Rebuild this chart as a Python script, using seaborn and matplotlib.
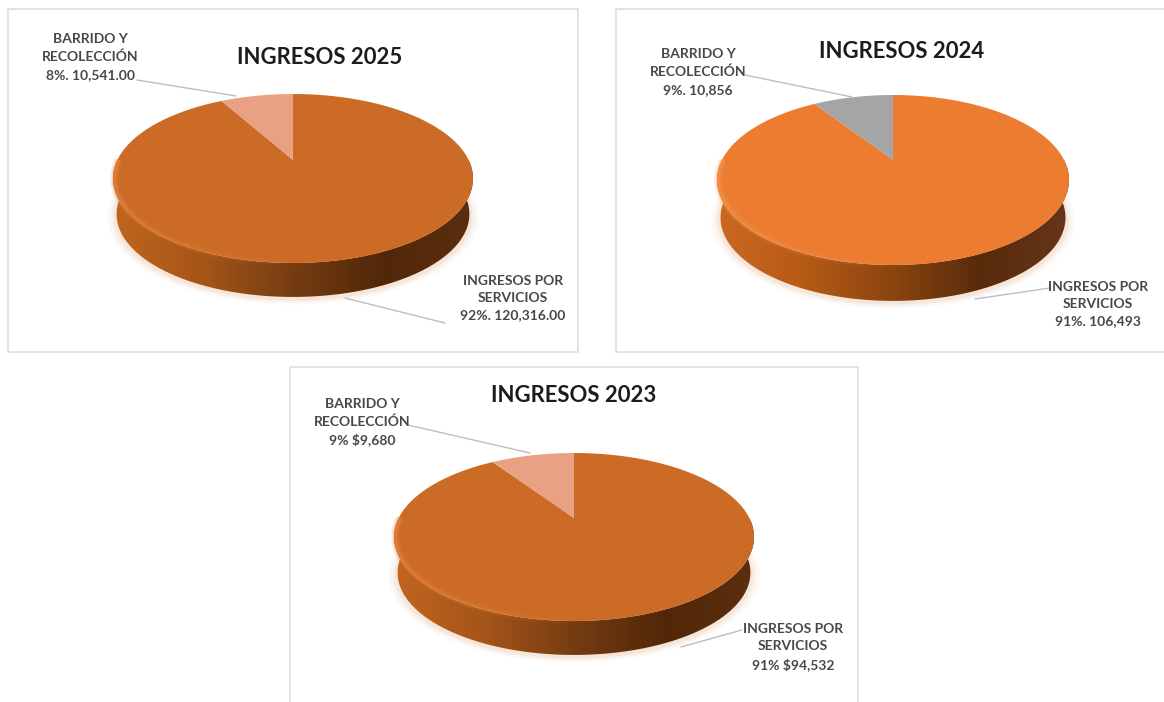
import numpy as np
import matplotlib
matplotlib.use("Agg")
import matplotlib.pyplot as plt
import seaborn as sns
from matplotlib.collections import LineCollection
from matplotlib.patches import Polygon, Rectangle
from matplotlib.transforms import Affine2D

sns.set_theme(style="white")
plt.rcParams["font.family"] = ["Lato", "DejaVu Sans"]

# ==============================
# Datos
# ==============================
years = ["2025", "2024", "2023"]
servicios = [120316, 106493, 94532]
barrido = [10541, 10856, 9680]
barrido_labels = ["BARRIDO Y\nRECOLECCIÓN\n8%. 10,541.00",
                  "BARRIDO Y\nRECOLECCIÓN\n9%. 10,856",
                  "BARRIDO Y\nRECOLECCIÓN\n9% $9,680"]
servicios_labels = ["INGRESOS POR\nSERVICIOS\n92%. 120,316.00",
                    "INGRESOS POR\nSERVICIOS\n91%. 106,493",
                    "INGRESOS POR\nSERVICIOS\n91% $94,532"]

# ==============================
# Layout en pixeles de la imagen
# ==============================
W, H = 1164, 702
panels = [
    dict(box=(8, 9, 578, 352), cx=293, cy=160, half=180, up=66, down=103, depth=36,
         title=(320, 57), left=(90, 57), right=(513, 298),
         lead1=[(137, 80), (236, 96)], lead2=[(345, 298), (445, 323)],
         top="#CC6B25", slice="#E8A283", rim="#E98A45",
         wall=["#C0651F", "#A55518", "#753C12", "#522708", "#5A2E0F"]),
    dict(box=(616, 9, 1175, 352), cx=893, cy=160, half=176, up=65, down=105, depth=38,
         title=(902, 51), left=(698, 72), right=(1098, 304),
         lead1=[(745, 75), (852, 97)], lead2=[(975, 299), (1050, 288)],
         top="#EC7C30", slice="#A5A5A5", rim="#F59A55",
         wall=["#CC6820", "#B55A16", "#8A4510", "#582B0A", "#66351A"]),
    dict(box=(290, 367, 858, 710), cx=574, cy=518, half=180, up=65, down=103, depth=36,
         title=(574, 396), left=(362, 422), right=(793, 647),
         lead1=[(408, 425), (530, 453)], lead2=[(681, 647), (742, 630)],
         top="#CC6B25", slice="#E8A283", rim="#E98A45",
         wall=["#C0651F", "#A55518", "#753C12", "#522708", "#5A2E0F"]),
]


def warp(x, y, p, scale=1.0, dy=0.0):
    # perspectiva: el centro del pastel queda mas cerca del borde de arriba
    k = (p["down"] - p["up"]) / (p["down"] + p["up"])
    ry = p["up"] * (1 + k)
    rx = p["half"] * np.sqrt(1 - k ** 2)
    w = 1 + k * y
    return p["cx"] + scale * rx * x / w, p["cy"] + dy - scale * ry * y / w


fig = plt.figure(figsize=(W / 100, H / 100), dpi=100)
ax = fig.add_axes([0, 0, 1, 1])
theta = np.linspace(0, 2 * np.pi, 400)
front = np.linspace(np.pi, 2 * np.pi, 200)

for i, p in enumerate(panels):
    x0, y0, x1, y1 = p["box"]
    ax.add_patch(Rectangle((x0, y0), x1 - x0, y1 - y0, fc="white", ec="#DEDEDE", lw=1.2, zorder=1))

    # sombra suave debajo del pastel
    for s, a in [(1.05, 0.05), (1.035, 0.07), (1.02, 0.10), (1.01, 0.14)]:
        sx, sy = warp(np.cos(theta), np.sin(theta), p, scale=s * 0.985, dy=p["depth"] + 2)
        ax.add_patch(Polygon(np.c_[sx, sy], fc="#E9B48C", ec="none", alpha=a, zorder=2))

    # pared lateral con degradado
    tx, ty = warp(np.cos(front), np.sin(front), p)
    bx, by = warp(np.cos(front), np.sin(front), p, scale=0.98, dy=p["depth"])
    wall = Polygon(np.r_[np.c_[tx, ty], np.c_[bx, by][::-1]], fc="none", ec="none", zorder=3)
    ax.add_patch(wall)
    cmap = sns.blend_palette(p["wall"], n_colors=256, as_cmap=True)
    img = ax.imshow(np.linspace(0, 1, 256)[None, :], cmap=cmap, aspect="auto", zorder=3,
                    extent=(tx.min(), tx.max(), by.max(), ty.min()))
    img.set_clip_path(wall)

    # pastel: las rebanadas salen de los valores
    wedges, _ = ax.pie([servicios[i], barrido[i]], startangle=90, counterclock=False,
                       colors=[p["top"], p["slice"]], radius=1)
    for wedge in wedges:
        path = (wedge.get_patch_transform() + Affine2D().scale(1000)).transform_path(wedge.get_path())
        verts = path.to_polygons()[0] / 1000
        wx, wy = warp(verts[:, 0], verts[:, 1], p)
        ax.add_patch(Polygon(np.c_[wx, wy], fc=wedge.get_facecolor(), ec="none", zorder=4))
        wedge.remove()

    # brillo en el borde del frente, se apaga hacia la derecha
    rx_, ry_ = warp(np.cos(front), np.sin(front), p, scale=0.992)
    segs = np.stack([np.c_[rx_[:-1], ry_[:-1]], np.c_[rx_[1:], ry_[1:]]], axis=1)
    fade = np.clip(1.05 - np.linspace(0, 1, len(segs)) * 1.9, 0, 1)
    for lw, a in [(6, 0.22), (3.5, 0.3), (1.8, 0.4)]:
        rgba = np.tile(matplotlib.colors.to_rgba(p["rim"]), (len(segs), 1))
        rgba[:, 3] = fade * a
        ax.add_collection(LineCollection(segs, colors=rgba, linewidths=lw, zorder=5))

    # lineas guia
    for lead in (p["lead1"], p["lead2"]):
        ax.plot(*zip(*lead), color="#B8BEC2", lw=1, zorder=6)

    # textos
    ax.text(*p["title"], "INGRESOS " + years[i], ha="center", va="center", fontsize=15.9,
            fontweight="bold", color="#1C1C1C", zorder=7)
    ax.text(*p["left"], barrido_labels[i], ha="center", va="center", fontsize=10, linespacing=1.52,
            fontweight="bold", color="#484848", zorder=7)
    ax.text(*p["right"], servicios_labels[i], ha="center", va="center", fontsize=10, linespacing=1.52,
            fontweight="bold", color="#484848", zorder=7)

ax.set_aspect("auto")
ax.set_xlim(0, W)
ax.set_ylim(H, 0)
ax.axis("off")
fig.savefig("out.png", dpi=100, facecolor="white")
